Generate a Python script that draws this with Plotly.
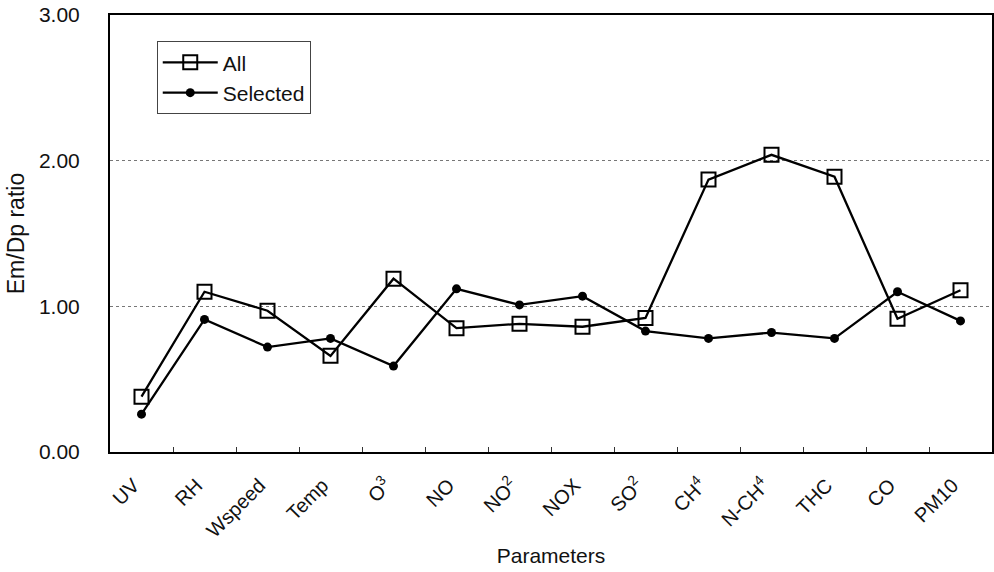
import plotly.graph_objects as go

categories = ["UV", "RH", "Wspeed", "Temp", "O<sup>3</sup>", "NO", "NO<sup>2</sup>", "NOX",
              "SO<sup>2</sup>", "CH<sup>4</sup>", "N-CH<sup>4</sup>", "THC", "CO", "PM10"]
all_vals = [0.38, 1.10, 0.97, 0.66, 1.19, 0.85, 0.88, 0.86, 0.92, 1.87, 2.04, 1.89, 0.915, 1.11]
selected_vals = [0.26, 0.91, 0.72, 0.78, 0.59, 1.12, 1.01, 1.07, 0.83, 0.78, 0.82, 0.78, 1.10, 0.90]
y_ticks = [0, 1, 2, 3]
y_ticktext = ["0.00", "1.00", "2.00", "3.00"]

fig = go.Figure()
fig.add_trace(go.Scatter(
    x=categories, y=all_vals, name="All", mode="lines+markers",
    line=dict(color="black", width=2.3),
    marker=dict(symbol="square-open", size=14, color="black", line=dict(width=2, color="black")),
))
fig.add_trace(go.Scatter(
    x=categories, y=selected_vals, name="Selected", mode="lines+markers",
    line=dict(color="black", width=2.3),
    marker=dict(symbol="circle", size=9, color="black"),
))

font_family = "Liberation Sans, Arial, sans-serif"
fig.update_layout(
    width=994, height=572,
    margin=dict(l=110, r=2, t=15, b=120, autoexpand=False),
    paper_bgcolor="white", plot_bgcolor="white",
    font=dict(family=font_family, color="#111", size=20),
    showlegend=True,
    legend=dict(
        x=0.053, y=0.94, xanchor="left", yanchor="top",
        bordercolor="#444", borderwidth=1, bgcolor="white",
        font=dict(size=21), tracegroupgap=2, itemwidth=55,
    ),
    xaxis=dict(
        type="category", range=[-0.5, 13.5],
        tickmode="array", tickvals=categories,
        ticktext=[c + "\u00a0\u00a0" for c in categories],
        tickangle=-45, tickfont=dict(size=20),
        ticks="inside", ticklen=5, tickcolor="#333", tickson="boundaries",
        showline=True, linecolor="black", linewidth=2, mirror=True,
        showgrid=False, automargin=False,
        title=dict(text="Parameters", font=dict(size=21), standoff=8),
        ticklabelstandoff=4,
    ),
    yaxis=dict(
        range=[0, 3], tickvals=y_ticks, ticktext=y_ticktext,
        tickfont=dict(size=21), ticks="", ticklabelstandoff=24,
        showline=True, linecolor="black", linewidth=2, mirror=True,
        showgrid=True, gridcolor="#777", griddash="dot", gridwidth=1,
        zeroline=False, automargin=False,
        title=dict(text="Em/Dp ratio", font=dict(size=23), standoff=8),
    ),
)

fig.write_html("out.html")
